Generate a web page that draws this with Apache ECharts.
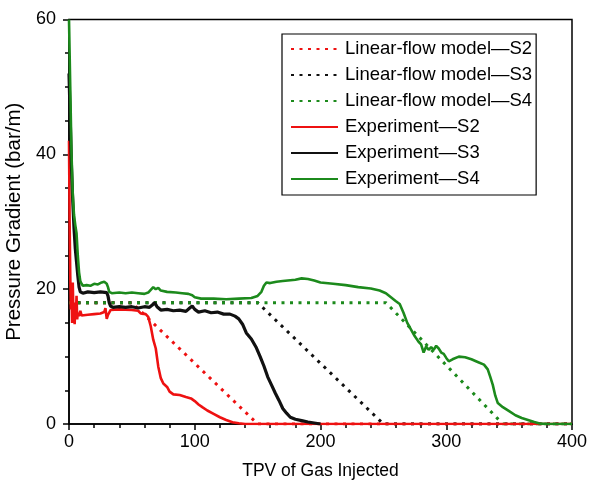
<!DOCTYPE html>
<html>
<head>
<meta charset="utf-8">
<script src="https://cdn.jsdelivr.net/npm/echarts@6/dist/echarts.min.js"></script>
<style>
  html, body { margin: 0; padding: 0; background: #fff; }
  #main { width: 589px; height: 484px; }
</style>
</head>
<body>
<div id="main"></div>
<script>
const chart = echarts.init(document.querySelector('#main'))

const FONT = 'Liberation Sans'
const RED = '#ee1111'
const BLACK = '#111111'
const GREEN = '#1c8a1c'

const SERIES_NAMES = [
  'Linear-flow model—S2',
  'Linear-flow model—S3',
  'Linear-flow model—S4',
  'Experiment—S2',
  'Experiment—S3',
  'Experiment—S4'
]

// linear-flow model, [TPV, bar/m]
const MODEL_S2 = [[0, 18], [50, 18], [150, 0], [400, 0]]
const MODEL_S3 = [[0, 18], [150, 18], [250, 0], [400, 0]]
const MODEL_S4 = [[0, 18], [252, 18], [345, 0], [400, 0]]

// experiment
const EXP_S2 = [
  [0, 42], [0.5, 30], [1, 22], [1.5, 17], [2, 19], [2.5, 15], [3, 21], [3.5, 16],
  [4, 18], [4.5, 14.8], [5, 17.5], [5.5, 16], [6, 19], [6.5, 15.5], [7, 16.5],
  [8, 16.0], [9, 16.8], [10, 16.1], [15, 16.2], [20, 16.3], [25, 16.4], [28, 16.6],
  [29, 17.2], [30, 15.6], [31, 16.2], [33, 16.9], [40, 17.0], [50, 16.9], [55, 16.8],
  [57, 16.4], [61, 16.3], [63, 15.9], [65, 14.5], [67, 12.5], [69, 11.2], [71, 8.5],
  [73, 6.8], [75, 6.0], [78, 5.5], [80, 4.8], [83, 4.4], [88, 4.3], [93, 4.0],
  [97, 3.8], [100, 3.4], [103, 2.9], [106, 2.5], [110, 2.0], [115, 1.5], [120, 1.0],
  [125, 0.6], [130, 0.25], [135, 0.1], [140, 0], [400, 0]
]

const EXP_S3 = [
  [0, 52], [1, 45], [2, 38], [3, 33], [4, 29], [5, 26], [6, 24], [7, 22], [8, 20.3],
  [9, 19.6], [11, 19.4], [15, 19.6], [20, 19.5], [25, 19.6], [30, 19.5], [31, 19.0],
  [32, 18.0], [33, 17.5], [35, 17.3], [40, 17.4], [45, 17.3], [50, 17.4], [55, 17.2],
  [60, 17.4], [64, 17.3], [66, 17.6], [68, 18.0], [70, 17.4], [73, 16.9], [78, 17.0],
  [83, 16.8], [88, 16.9], [93, 16.7], [96, 17.2], [98, 17.5], [100, 17.0], [103, 16.6],
  [108, 16.8], [113, 16.5], [118, 16.6], [123, 16.3], [128, 16.3], [132, 16.0],
  [135, 15.6], [138, 14.8], [141, 13.5], [145, 12.6], [149, 11.3], [152, 10.0],
  [155, 8.6], [158, 7.0], [161, 5.8], [164, 4.6], [167, 3.5], [170, 2.3], [173, 1.6],
  [176, 1.0], [180, 0.7], [185, 0.5], [190, 0.3], [195, 0.15], [200, 0]
]

const EXP_S4 = [
  [0, 60], [1, 50], [2, 40], [3, 34], [4, 31], [5, 29.5], [6, 28.3], [7, 25],
  [8, 22.5], [9, 21.2], [10, 20.8], [11, 20.5], [14, 20.6], [17, 20.5], [20, 20.8],
  [23, 20.7], [26, 21.0], [28, 21.1], [30, 20.8], [31, 20.3], [32, 19.6], [34, 19.4],
  [40, 19.5], [45, 19.4], [50, 19.5], [55, 19.4], [60, 19.3], [63, 19.5], [65, 19.9],
  [67, 20.3], [69, 20.0], [71, 20.2], [73, 19.8], [78, 19.6], [85, 19.5], [90, 19.4],
  [95, 19.3], [98, 19.1], [100, 18.8], [105, 18.6], [115, 18.6], [125, 18.5],
  [135, 18.6], [145, 18.7], [150, 19.0], [153, 19.6], [155, 20.5], [157, 21.0],
  [160, 20.9], [165, 21.1], [170, 21.2], [180, 21.4], [185, 21.6], [190, 21.5],
  [195, 21.3], [200, 21.0], [210, 20.8], [220, 20.6], [230, 20.3], [240, 20.1],
  [247, 19.8], [252, 19.4], [256, 18.8], [260, 18.2], [263, 17.8], [266, 16.5],
  [269, 15.0], [272, 14.0], [275, 13.0], [278, 12.2], [280, 11.8], [282, 10.6],
  [284, 11.5], [286, 11.0], [288, 11.4], [290, 11.0], [292, 11.6], [294, 11.2],
  [296, 10.6], [298, 10.4], [300, 9.8], [302, 9.3], [305, 9.6], [310, 10.0],
  [315, 9.9], [320, 9.6], [325, 9.2], [330, 8.8], [333, 8.1], [335, 7.0], [337, 5.8],
  [339, 4.2], [341, 3.1], [345, 2.5], [350, 1.9], [355, 1.3], [360, 0.9], [365, 0.6],
  [370, 0.3], [375, 0.05], [380, 0], [400, 0]
]

const X_TICKS = [0, 100, 200, 300, 400]
const Y_TICKS = [0, 20, 40, 60]

const DOTS = [3, 5.5]

function lineSeries (name, data, color, dotted, width) {
  return {
    name,
    type: 'line',
    data,
    symbol: 'none',
    animation: false,
    lineStyle: {
      color,
      width,
      type: dotted ? DOTS : 'solid',
      cap: 'butt'
    },
    itemStyle: { color }
  }
}

const axisCommon = {
  type: 'value',
  axisLine: { show: true, lineStyle: { color: '#000', width: 1.5 } },
  axisTick: { show: true, inside: false, length: 6, lineStyle: { color: '#000', width: 1.5 } },
  minorTick: { show: true, length: 4, lineStyle: { color: '#000', width: 1.5 } },
  splitLine: { show: false },
  axisLabel: { color: '#000', fontSize: 18, fontFamily: FONT }
}

chart.setOption({
  animation: false,
  backgroundColor: '#fff',
  grid: {
    left: 69,
    right: 17,
    top: 19.5,
    bottom: 60,
    outerBoundsMode: 'none',
    containLabel: false,
    show: true,
    borderColor: '#000',
    borderWidth: 1.5
  },
  legend: {
    data: SERIES_NAMES,
    orient: 'vertical',
    left: 282,
    top: 34,
    padding: [5, 4, 6, 8],
    itemGap: 6,
    itemWidth: 47,
    itemHeight: 20,
    itemStyle: { opacity: 0 },
    borderColor: '#000',
    borderWidth: 1.2,
    backgroundColor: '#fff',
    textStyle: { color: '#000', fontSize: 18.5, fontFamily: FONT, lineHeight: 20, padding: [0, 0, 0, 2] }
  },
  xAxis: Object.assign({}, axisCommon, {
    min: X_TICKS[0],
    max: X_TICKS[X_TICKS.length - 1],
    interval: 100,
    minorTick: Object.assign({}, axisCommon.minorTick, { splitNumber: 5 }),
    axisLabel: Object.assign({}, axisCommon.axisLabel, { margin: 9 }),
    name: 'TPV of Gas Injected',
    nameLocation: 'middle',
    nameGap: 38,
    nameTextStyle: { color: '#000', fontSize: 17.5, fontFamily: FONT }
  }),
  yAxis: Object.assign({}, axisCommon, {
    min: Y_TICKS[0],
    max: Y_TICKS[Y_TICKS.length - 1],
    interval: 20,
    minorTick: Object.assign({}, axisCommon.minorTick, { splitNumber: 4 }),
    axisLabel: Object.assign({}, axisCommon.axisLabel, { margin: 13 }),
    name: 'Pressure Gradient (bar/m)',
    nameLocation: 'middle',
    nameGap: 40,
    nameTextStyle: { color: '#000', fontSize: 20.5, fontFamily: FONT }
  }),
  series: [
    lineSeries(SERIES_NAMES[0], MODEL_S2, RED, true, 3),
    lineSeries(SERIES_NAMES[1], MODEL_S3, BLACK, true, 3),
    lineSeries(SERIES_NAMES[2], MODEL_S4, GREEN, true, 3),
    lineSeries(SERIES_NAMES[3], EXP_S2, RED, false, 2.6),
    lineSeries(SERIES_NAMES[4], EXP_S3, BLACK, false, 3.2),
    lineSeries(SERIES_NAMES[5], EXP_S4, GREEN, false, 2.6)
  ]
})
</script>
</body>
</html>
